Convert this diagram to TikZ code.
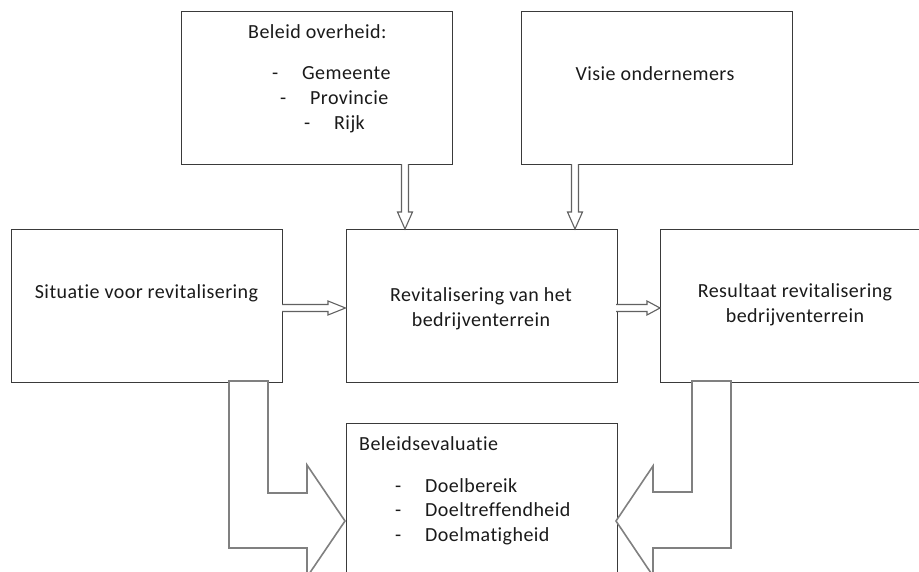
\documentclass[tikz,border=0pt]{standalone}
\usepackage{fontspec}
\setmainfont{Carlito}[Ligatures={NoCommon}, LetterSpace=2.2]
\usetikzlibrary{positioning}
\definecolor{boxline}{HTML}{3A3A3A}
\definecolor{arrline}{HTML}{808080}
\definecolor{txt}{HTML}{1A1A1A}
\tikzset{
  box/.style={draw=boxline, line width=1.3pt, fill=white, minimum width=271pt, minimum height=153pt, anchor=north west, inner sep=0pt},
  lbl/.style={text=txt, font=\fontsize{20pt}{24.5pt}\selectfont, inner sep=0pt},
  hollow/.style={draw=boxline!80, line width=1.1pt, fill=white, line join=miter},
  bigarrow/.style={draw=arrline, line width=1.6pt, fill=white, line join=miter},
}
\begin{document}
\begin{tikzpicture}[x=1pt,y=-1pt]
\useasboundingbox (0,0) rectangle (919,571);
% boxes
\node[box] (bo) at (181,11) {};
\node[box] (vo) at (521,11) {};
\node[box] (sit) at (11,229) {};
\node[box] (rev) at (345.5,229) {};
\node[box] (res) at (660,229) {};
\node[box, minimum height=165pt] (be) at (345.5,423) {};
% texts
\node[lbl, anchor=base west] (t1) at (248,38) {Beleid overheid:};
\node[lbl, anchor=base west] (d1) at (272,79) {-};
\node[lbl, anchor=base west] (g1) at (302,79) {Gemeente};
\node[lbl, anchor=base west] (d2) at (280,104) {-};
\node[lbl, anchor=base west] (g2) at (310,104) {Provincie};
\node[lbl, anchor=base west] (d3) at (304,129) {-};
\node[lbl, anchor=base west] (g3) at (334,129) {Rijk};
\node[lbl] (t2) at (655,74) {Visie ondernemers};
\node[lbl] (t3) at (146.5,293) {Situatie voor revitalisering};
\node[lbl, align=center] (t4) at (481,309) {Revitalisering van het\\bedrijventerrein};
\node[lbl, align=center] (t5) at (795,305) {Resultaat revitalisering\\bedrijventerrein};
\node[lbl, anchor=base west] (t6) at (359,450) {Beleidsevaluatie};
\node[lbl, anchor=base west] (d4) at (395,492) {-};
\node[lbl, anchor=base west] (e1) at (425,492) {Doelbereik};
\node[lbl, anchor=base west] (d5) at (395,516.5) {-};
\node[lbl, anchor=base west] (e2) at (425,516.5) {Doeltreffendheid};
\node[lbl, anchor=base west] (d6) at (395,541) {-};
\node[lbl, anchor=base west] (e3) at (425,541) {Doelmatigheid};
% small hollow arrows
\draw[hollow] (401.5,164) -- (401.5,212) -- (397.5,212) -- (405,229) -- (412.5,212) -- (408.5,212) -- (408.5,164);
\draw[hollow] (571.5,164) -- (571.5,212) -- (567.5,212) -- (575,229) -- (582.5,212) -- (578.5,212) -- (578.5,164);
\draw[hollow] (282,304.5) -- (328,304.5) -- (328,301) -- (345.5,308) -- (328,315) -- (328,311.5) -- (282,311.5);
\draw[hollow] (616,304.5) -- (647,304.5) -- (647,301) -- (660,308) -- (647,315) -- (647,311.5) -- (616,311.5);
% big bent arrows
\draw[bigarrow] (229,381) -- (268,381) -- (268,493) -- (307,493) -- (307,465) -- (345,521) -- (307,577) -- (307,548) -- (229,548) -- cycle;
\draw[bigarrow] (692,381) -- (731,381) -- (731,548) -- (653,548) -- (653,576) -- (616,521) -- (653,466) -- (653,492) -- (692,492) -- cycle;
\end{tikzpicture}
\end{document}
